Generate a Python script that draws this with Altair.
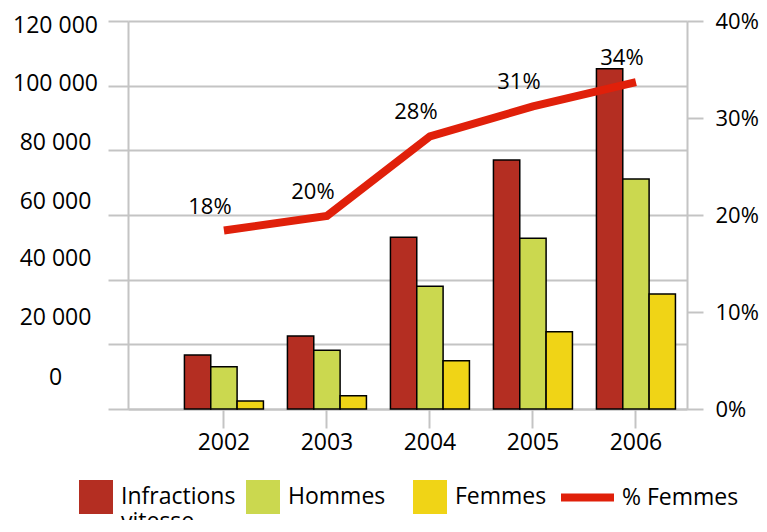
import altair as alt
import pandas as pd

years = ["2002", "2003", "2004", "2005", "2006"]
series = ["Infractions vitesse", "Hommes", "Femmes"]
infractions = [16700, 22600, 53100, 77000, 105200]
hommes = [13100, 18200, 38000, 52800, 71100]
femmes = [2500, 4100, 14900, 23900, 35600]
pct_femmes = [0.184, 0.199, 0.281, 0.312, 0.337]
pct_labels = ["18%", "20%", "28%", "31%", "34%"]
line_name = ["% Femmes"]
bar_colors = ["#b42e22", "#cbd84f", "#f0d416"]
line_color = ["#e0200a"]
left_ticks = [0, 20000, 40000, 60000, 80000, 100000, 120000]
right_ticks = [0, 0.1, 0.2, 0.3, 0.4]

bars_df = pd.DataFrame({
    "year": years * 3,
    "serie": [s for s in series for _ in years],
    "value": infractions + hommes + femmes,
})
line_df = pd.DataFrame({
    "year": years,
    "pct": pct_femmes,
    "label": pct_labels,
    "serie": line_name * len(years),
})

FONT = "Open Sans"
GRID = "#c4c4c4"
FS = 23

x_scale = alt.Scale(domain=years, paddingInner=0.233, paddingOuter=0.33, align=0.83)
x_axis = alt.Axis(title=None, labelAngle=0, domainColor=GRID, domainWidth=2,
                  tickColor=GRID, tickWidth=2, tickSize=19, labelPadding=3,
                  labelFontSize=FS, labelFont=FONT, labelColor="black")
x_enc = alt.X("year:N", scale=x_scale, axis=x_axis)

label_off = {
    "condition": [
        {"test": "datum.value == 0", "value": -32},
        {"test": "datum.value == 20000", "value": -27},
        {"test": "datum.value == 40000", "value": -21},
        {"test": "datum.value == 60000", "value": -14},
        {"test": "datum.value == 80000", "value": -8},
        {"test": "datum.value == 100000", "value": -2},
    ],
    "value": 4,
}

bars = alt.Chart(bars_df).mark_bar(stroke="black", strokeWidth=1.5).encode(
    x=x_enc,
    xOffset=alt.XOffset("serie:N", scale=alt.Scale(domain=series, paddingInner=0, paddingOuter=0)),
    y=alt.Y("value:Q", scale=alt.Scale(domain=[0, 120000], nice=False),
            axis=alt.Axis(values=left_ticks, title=None, orient="left", grid=True,
                          gridColor=GRID, gridWidth=2, domainColor=GRID, domainWidth=2,
                          tickColor=GRID, tickWidth=2, tickSize=20, labelAlign="center",
                          labelPadding=53, labelFontSize=FS, labelFont=FONT, labelColor="black",
                          labelExpr="replace(format(datum.value, ','), ',', ' ')",
                          labelOffset=label_off)),
    color=alt.Color("serie:N", scale=alt.Scale(domain=series, range=bar_colors),
                    legend=alt.Legend(title=None, orient="none", legendX=-49, legendY=459,
                                      direction="horizontal", symbolType="square",
                                      symbolSize=1156, symbolStrokeWidth=0,
                                      labelFontSize=FS, labelFont=FONT, labelColor="black",
                                      labelOffset=8, columnPadding=10, padding=0,
                                      gridAlign="all", labelLimit=300,
                                      labelExpr="datum.label == 'Infractions vitesse' ? ['Infractions', 'vitesse'] : [datum.label, '']")),
)

pct_scale = alt.Scale(domain=[0, 0.4], nice=False)

line = alt.Chart(line_df).mark_line(strokeWidth=8).encode(
    x=x_enc,
    y=alt.Y("pct:Q", scale=pct_scale,
            axis=alt.Axis(orient="right", values=right_ticks, format=".0%", grid=False,
                          title=None, domainColor=GRID, domainWidth=2, tickColor=GRID,
                          tickWidth=2, tickSize=16, labelPadding=12, labelFontSize=22,
                          labelFont=FONT, labelColor="black")),
    stroke=alt.Stroke("serie:N", scale=alt.Scale(domain=line_name, range=line_color),
                      legend=alt.Legend(title=None, orient="none", legendX=429, legendY=446,
                                        symbolType="stroke", symbolSize=2809,
                                        symbolStrokeWidth=8, labelFontSize=FS, labelFont=FONT,
                                        labelColor="black", labelOffset=4, padding=0)),
)

labels = alt.Chart(line_df).mark_text(dx=-14, dy=-24, fontSize=22, font=FONT, color="black").encode(
    x=x_enc,
    y=alt.Y("pct:Q", scale=pct_scale, axis=None),
    text="label:N",
)

chart = alt.layer(bars, line, labels).resolve_scale(y="independent").properties(
    width=559, height=388,
    autosize=alt.AutoSizeParams(type="none"),
    padding={"left": 120, "top": 13, "right": 72, "bottom": 111},
).configure_view(stroke=None)

chart.save("out.html", embed_options={"renderer": "svg", "actions": False})
